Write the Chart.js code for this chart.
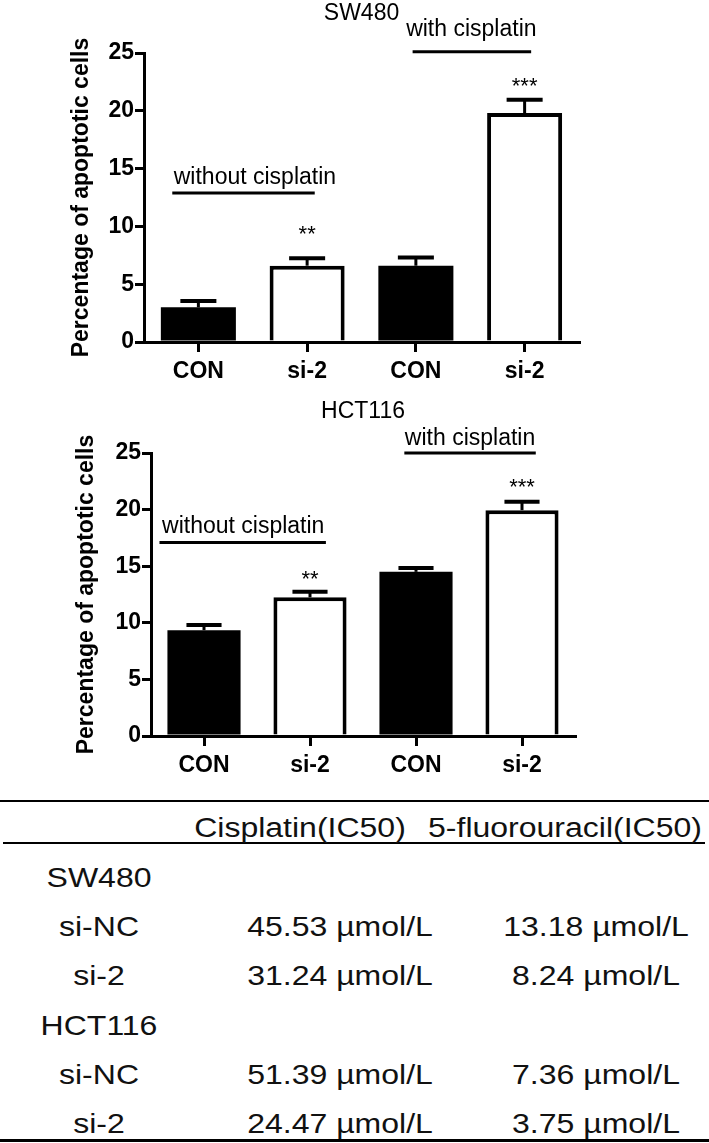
<!DOCTYPE html>
<html>
<head>
<meta charset="utf-8">
<script src="https://cdn.jsdelivr.net/npm/chart.js@4.4.0/dist/chart.umd.min.js"></script>
<style>
  body { margin: 0; background: #fff; }
  #page { position: relative; width: 709px; height: 1143px; font-family: "Liberation Sans", Arial, sans-serif; }
  canvas { position: absolute; left: 0; }
  .rule { position: absolute; background: #000; }
  .cell { position: absolute; font-size: 32px; line-height: 32px; color: #111; white-space: nowrap;
          transform: translate(-50%, -50%) scaleY(0.88); }
</style>
</head>
<body>
<div id="page">
  <canvas id="sw480chart" width="709" height="385" style="top:0px"></canvas>
  <canvas id="hct116chart" width="709" height="390" style="top:390px"></canvas>
  <div id="table"></div>
</div>
<script>
// ---- data ----
const categories = ['CON', 'si-2', 'CON', 'si-2'];
const barColors = ['#000', '#fff', '#000', '#fff'];
const significance = ['', '**', '', '***'];
const groupLabels = ['without cisplatin', 'with cisplatin'];

const sw480Values = [3.0, 6.6, 6.6, 19.8];
const sw480Errors = [0.55, 0.65, 0.7, 1.15];

const hct116Values = [9.35, 12.25, 14.5, 19.95];
const hct116Errors = [0.45, 0.5, 0.35, 0.75];

const yTicks = [0, 5, 10, 15, 20, 25];

const tableHeaders = ['Cisplatin(IC50)', '5-fluorouracil(IC50)'];
const tableRows = ['SW480', 'si-NC', 'si-2', 'HCT116', 'si-NC', 'si-2'];
const cisplatinIC50 = [null, 45.53, 31.24, null, 51.39, 24.47];
const fluorouracilIC50 = [null, 13.18, 8.24, null, 7.36, 3.75];
const unit = 'µmol/L';

Chart.defaults.font.family = '"Liberation Sans", Arial, sans-serif';
Chart.defaults.color = '#000';

// error bars (upper half only, like the figure)
const errorBarPlugin = {
  id: 'errorBars',
  afterDatasetsDraw(chart, args, opts) {
    const ctx = chart.ctx;
    const y = chart.scales.y;
    const values = chart.data.datasets[0].data;
    ctx.save();
    ctx.strokeStyle = '#000';
    chart.getDatasetMeta(0).data.forEach((bar, i) => {
      const top = y.getPixelForValue(values[i] + opts.errors[i]);
      const half = bar.width * 0.24;
      ctx.lineWidth = 3;
      ctx.beginPath(); ctx.moveTo(bar.x, bar.y); ctx.lineTo(bar.x, top); ctx.stroke();
      ctx.lineWidth = 4;
      ctx.beginPath(); ctx.moveTo(bar.x - half, top); ctx.lineTo(bar.x + half, top); ctx.stroke();
    });
    ctx.restore();
  }
};

// group lines, group labels and stars
const groupPlugin = {
  id: 'groups',
  afterDraw(chart, args, opts) {
    const ctx = chart.ctx;
    const x = chart.scales.x, y = chart.scales.y;
    ctx.save();
    ctx.fillStyle = '#000';
    ctx.strokeStyle = '#000';
    ctx.textAlign = 'center';
    ctx.textBaseline = 'middle';
    opts.groups.forEach((g, i) => {
      const ly = y.getPixelForValue(g.lineAt);
      ctx.lineWidth = 3;
      ctx.beginPath();
      ctx.moveTo(x.getPixelForValue(g.from), ly);
      ctx.lineTo(x.getPixelForValue(g.to), ly);
      ctx.stroke();
      ctx.font = '23px "Liberation Sans", Arial, sans-serif';
      ctx.fillText(groupLabels[i], x.getPixelForValue(g.textAt), y.getPixelForValue(g.textY));
    });
    ctx.font = '22px "Liberation Sans", Arial, sans-serif';
    significance.forEach((s, i) => {
      if (s) ctx.fillText(s, x.getPixelForValue(i), y.getPixelForValue(opts.starAt[i]) + 5);
    });
    ctx.restore();
  }
};

function makeConfig(title, values, errors, layout) {
  return {
    type: 'bar',
    data: {
      labels: categories,
      datasets: [{
        data: values,
        backgroundColor: barColors,
        borderColor: '#000',
        borderWidth: [0, 4, 0, 4],
        borderSkipped: 'start',
        categoryPercentage: 1,
        barPercentage: 0.69
      }]
    },
    options: {
      responsive: false,
      animation: false,
      layout: { padding: { left: 0, right: layout.right, top: 0, bottom: 0 } },
      scales: {
        x: {
          afterFit: s => { s.height = layout.xHeight; },
          grid: { display: true, drawOnChartArea: false, offset: false, tickLength: 10, lineWidth: 3, color: '#000' },
          border: { display: true, color: '#000', width: 3 },
          ticks: { font: { size: 23, weight: 'bold' }, padding: layout.xPad, color: '#000' }
        },
        y: {
          min: 0,
          max: 25,
          afterFit: s => { s.width = layout.left; },
          afterBuildTicks: s => { s.ticks = yTicks.map(v => ({ value: v })); },
          grid: { display: true, drawOnChartArea: false, tickLength: 9, lineWidth: 3, color: '#000' },
          border: { display: true, color: '#000', width: 3 },
          ticks: { font: { size: 23, weight: 'bold' }, padding: 1, color: '#000' },
          title: {
            display: true,
            text: 'Percentage of apoptotic cells',
            font: { size: 23, weight: 'bold' },
            color: '#000',
            padding: { top: layout.yTitlePad, bottom: 0 }
          }
        }
      },
      plugins: {
        legend: { display: false },
        tooltip: { enabled: false },
        title: {
          display: true,
          text: title,
          fullSize: false,
          color: '#000',
          font: { size: 23, weight: 'normal' },
          padding: { top: layout.titleTop, bottom: layout.titleBottom }
        },
        errorBars: { errors: errors },
        groups: layout.groups
      }
    },
    plugins: [errorBarPlugin, groupPlugin]
  };
}

// ---- SW480 ----
var sw480ctx = document.getElementById('sw480chart').getContext('2d');
var sw480chart = new Chart(sw480ctx, makeConfig('SW480', sw480Values, sw480Errors, {
  left: 144, right: 130, xHeight: 43, xPad: 6, yTitlePad: 68,
  titleTop: 0, titleBottom: 25.4,
  groups: {
    groups: [
      { from: -0.24, to: 1.07, lineAt: 12.9, textAt: 0.52, textY: 14.2 },
      { from: 1.97, to: 3.06, lineAt: 25.1, textAt: 2.51, textY: 27.0 }
    ],
    starAt: [0, 9.7, 0, 22.5]
  }
}));

// ---- HCT116 ----
var hct116ctx = document.getElementById('hct116chart').getContext('2d');
var hct116chart = new Chart(hct116ctx, makeConfig('HCT116', hct116Values, hct116Errors, {
  left: 151, right: 134, xHeight: 44, xPad: 6, yTitlePad: 73,
  titleTop: 8.2, titleBottom: 27.2,
  groups: {
    groups: [
      { from: -0.42, to: 1.15, lineAt: 17.1, textAt: 0.37, textY: 18.5 },
      { from: 1.89, to: 3.13, lineAt: 25.0, textAt: 2.51, textY: 26.3 }
    ],
    starAt: [0, 14.2, 0, 22.35]
  }
}));

// ---- IC50 table ----
const table = document.getElementById('table');
function addRule(top, left, width, height) {
  const d = document.createElement('div');
  d.className = 'rule';
  d.style.cssText = 'top:' + top + 'px;left:' + left + 'px;width:' + width + 'px;height:' + height + 'px';
  table.appendChild(d);
}
function addCell(text, cx, cy) {
  const d = document.createElement('div');
  d.className = 'cell';
  d.textContent = text;
  d.style.left = cx + 'px';
  d.style.top = cy + 'px';
  table.appendChild(d);
}
addRule(800, 0, 709, 2);
addRule(842, 3, 702, 2);
addRule(1139, 0, 709, 3);
addCell(tableHeaders[0], 300, 827);
addCell(tableHeaders[1], 565, 827);
tableRows.forEach((name, i) => {
  const cy = 877 + i * 49.2;
  addCell(name, 99, cy);
  if (cisplatinIC50[i] !== null) addCell(cisplatinIC50[i].toFixed(2) + ' ' + unit, 340, cy);
  if (fluorouracilIC50[i] !== null) addCell(fluorouracilIC50[i].toFixed(2) + ' ' + unit, 596, cy);
});
</script>
</body>
</html>
